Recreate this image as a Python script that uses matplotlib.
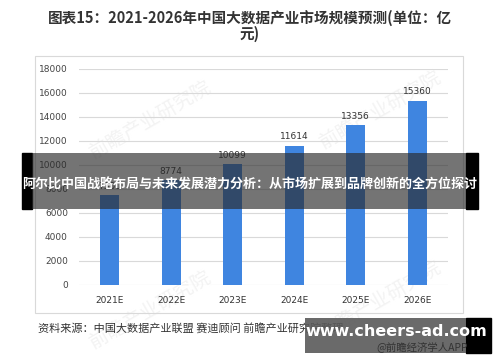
import matplotlib
matplotlib.use('Agg')
import matplotlib.pyplot as plt
from matplotlib.patches import Rectangle

plt.rcParams['font.family'] = ['Noto Sans CJK SC', 'DejaVu Sans']

# 数据
years = ['2021E', '2022E', '2023E', '2024E', '2025E', '2026E']
market_size = [7500, 8774, 10099, 11614, 13356, 15360]
y_ticks = [0, 2000, 4000, 6000, 8000, 10000, 12000, 14000, 16000, 18000]

title_text = '图表15：2021-2026年中国大数据产业市场规模预测(单位：亿\n元)'
source_text = '资料来源：中国大数据产业联盟 赛迪顾问 前瞻产业研究院整理'
banner_text = '阿尔比中国战略布局与未来发展潜力分析：从市场扩展到品牌创新的全方位探讨'

W, H = 500, 362
fig = plt.figure(figsize=(W / 100, H / 100), dpi=100)
fig.patch.set_facecolor('white')

def fx(px):
    return px / W

def fy(py):
    return 1 - py / H

# 标题
fig.text(0.5, fy(26), title_text, ha='center', va='center', fontsize=10.5,
         fontweight='bold', color='#333333', linespacing=1.0)

# 图表外框
frame = Rectangle((fx(35), fy(313)), fx(463) - fx(35), fy(56) - fy(313),
                  transform=fig.transFigure, fill=False, edgecolor='#D9D9D9',
                  linewidth=0.8, zorder=0)
fig.patches.append(frame)

# 水印（淡）
for (px, py) in [(150, 120), (380, 110), (150, 310), (380, 300)]:
    fig.text(fx(px), fy(py), '前瞻产业研究院', fontsize=14, color='#F3F3F3',
             rotation=30, ha='center', va='center', zorder=-1)

# 主图
ax = fig.add_axes([fx(79), fy(285), fx(448) - fx(79), fy(69) - fy(285)])
x = range(len(years))
bars = ax.bar(x, market_size, width=0.31, color='#3F85E0', zorder=3)
for bar, v in zip(bars, market_size):
    ax.text(bar.get_x() + bar.get_width() / 2, v + 350, str(v),
            ha='center', va='bottom', fontsize=6.5, color='#333333',
            family='DejaVu Sans')

ax.set_xlim(-0.5, len(years) - 0.5)
ax.set_ylim(0, 18000)
ax.set_yticks(y_ticks)
ax.set_yticklabels([str(t) for t in y_ticks], fontsize=6.5, color='#444444',
                   family='DejaVu Sans')
ax.set_xticks(list(x))
ax.set_xticklabels(years, fontsize=6.5, color='#333333', family='DejaVu Sans')
ax.tick_params(axis='both', length=0, pad=8)
ax.grid(axis='y', color='#D9D9D9', linewidth=0.8, zorder=0)
for s in ax.spines.values():
    s.set_visible(False)
ax.set_facecolor('none')

# 来源
fig.text(fx(38), fy(328), source_text, ha='left', va='center', fontsize=8,
         color='#333333')

# 横幅
fig.patches.append(Rectangle((fx(22), fy(209)), fx(32) - fx(22), fy(153) - fy(209),
                             transform=fig.transFigure, color='black', zorder=10))
fig.patches.append(Rectangle((fx(466), fy(209)), fx(478) - fx(466), fy(153) - fy(209),
                             transform=fig.transFigure, color='black', zorder=10))
fig.patches.append(Rectangle((fx(32), fy(209)), fx(466) - fx(32), fy(153) - fy(209),
                             transform=fig.transFigure, color='#2A2A2A', alpha=0.65,
                             zorder=10, linewidth=0))
fig.text(0.5, fy(185), banner_text, ha='center', va='center', fontsize=9.4,
         fontweight='bold', color='white', zorder=11)

# 右下角网址
fig.patches.append(Rectangle((fx(466), fy(353)), fx(491) - fx(466), fy(318) - fy(353),
                             transform=fig.transFigure, color='black', zorder=10))
fig.patches.append(Rectangle((fx(305), fy(353)), fx(466) - fx(305), fy(318) - fy(353),
                             transform=fig.transFigure, color='#5A5A5A', alpha=0.9,
                             zorder=10, linewidth=0))
fig.text(fx(396), fy(331), 'www.cheers-ad.com', ha='center', va='center',
         fontsize=11.5, fontweight='bold', color='white', family='DejaVu Sans',
         zorder=11)
fig.text(fx(468), fy(347), '@前瞻经济学人APP', ha='right', va='center',
         fontsize=7.5, color='#333333', zorder=11)

plt.savefig('out.png', dpi=100)
plt.close()
